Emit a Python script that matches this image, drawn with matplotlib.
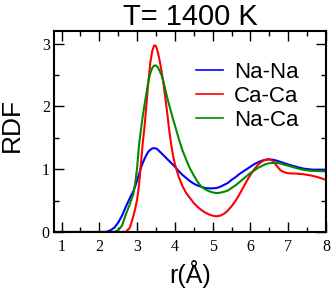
import numpy as np
import matplotlib
matplotlib.use("Agg")
import matplotlib.pyplot as plt
from matplotlib.ticker import MultipleLocator

# r grid (Angstrom) and RDF values
r = [0.8, 2.0, 2.1, 2.2, 2.3, 2.4, 2.5, 2.6, 2.7, 2.8, 2.85, 2.9, 2.95,
     3.0, 3.05, 3.1, 3.15, 3.2, 3.25, 3.3, 3.35, 3.4, 3.45, 3.5, 3.55,
     3.6, 3.65, 3.7, 3.75, 3.8, 3.85, 3.9, 3.95, 4.0, 4.1, 4.2, 4.3, 4.4,
     4.5, 4.6, 4.7, 4.8, 4.9, 5.0, 5.1, 5.2, 5.3, 5.4, 5.5, 5.6, 5.7, 5.8,
     5.9, 6.0, 6.1, 6.2, 6.3, 6.4, 6.5, 6.6, 6.7, 6.8, 6.9, 7.0, 7.2, 7.4,
     7.6, 7.8, 8.0]

na_na = [0, 0, 0, 0.005, 0.03, 0.07, 0.15, 0.26, 0.40, 0.53, 0.59, 0.65, 0.73,
         0.82, 0.92, 1.02, 1.10, 1.17, 1.23, 1.28, 1.31, 1.33, 1.335, 1.33, 1.31,
         1.28, 1.25, 1.22, 1.19, 1.16, 1.13, 1.10, 1.07, 1.04, 0.97, 0.91, 0.86, 0.81,
         0.77, 0.74, 0.72, 0.70, 0.695, 0.695, 0.70, 0.72, 0.75, 0.78, 0.83, 0.87, 0.92, 0.96,
         1.00, 1.04, 1.08, 1.11, 1.135, 1.15, 1.155, 1.15, 1.135, 1.115, 1.095, 1.075, 1.04, 1.01,
         0.995, 0.99, 0.99]

ca_ca = [0, 0, 0, 0, 0, 0, 0, 0, 0.005, 0.06, 0.15, 0.25, 0.37,
         0.52, 0.75, 1.08, 1.42, 1.70, 2.05, 2.40, 2.70, 2.88, 2.97, 2.96, 2.86,
         2.72, 2.55, 2.35, 2.12, 1.88, 1.62, 1.40, 1.22, 1.08, 0.88, 0.73, 0.62, 0.54,
         0.46, 0.40, 0.35, 0.31, 0.28, 0.26, 0.25, 0.26, 0.29, 0.34, 0.41, 0.49, 0.59, 0.70,
         0.81, 0.91, 1.00, 1.07, 1.12, 1.15, 1.16, 1.13, 1.05, 0.98, 0.95, 0.935, 0.93, 0.92,
         0.90, 0.87, 0.83]

na_ca = [0, 0, 0, 0, 0, 0.003, 0.03, 0.10, 0.28, 0.43, 0.52, 0.60, 0.78,
         1.02, 1.38, 1.62, 1.85, 2.04, 2.22, 2.40, 2.53, 2.61, 2.65, 2.65, 2.62,
         2.56, 2.49, 2.39, 2.26, 2.13, 2.02, 1.91, 1.80, 1.70, 1.49, 1.30, 1.15, 1.01,
         0.90, 0.80, 0.72, 0.68, 0.65, 0.63, 0.62, 0.625, 0.64, 0.66, 0.70, 0.74, 0.79, 0.84,
         0.89, 0.94, 0.98, 1.02, 1.05, 1.08, 1.095, 1.10, 1.10, 1.09, 1.07, 1.055, 1.02, 0.99,
         0.975, 0.97, 0.965]

labels = ["Na-Na", "Ca-Ca", "Na-Ca"]
colors = ["#0000ff", "#ff0000", "#008b00"]

sans = "Liberation Sans"
serif = "Liberation Serif"

fig = plt.figure(figsize=(3.32, 2.88), dpi=100)
ax = fig.add_axes([54/332, 56/288, 272/332, 201/288])

for y, lab, c in zip([na_na, ca_ca, na_ca], labels, colors):
    ax.plot(r, y, color=c, lw=1.5, label=lab)

ax.set_xlim(0.8, 8)
ax.set_ylim(0, 3.2)
ax.xaxis.set_major_locator(MultipleLocator(1))
ax.xaxis.set_minor_locator(MultipleLocator(0.5))
ax.yaxis.set_major_locator(MultipleLocator(1))
ax.yaxis.set_minor_locator(MultipleLocator(0.5))
ax.tick_params(which="both", direction="in", top=True, right=True, width=1)
ax.tick_params(which="major", length=7)
ax.tick_params(which="minor", length=3.6)
ax.tick_params(axis="x", pad=5)
ax.tick_params(axis="y", pad=3)
for lab in ax.get_xticklabels() + ax.get_yticklabels():
    lab.set_fontfamily(serif)
    lab.set_fontsize(11.5)
for s in ax.spines.values():
    s.set_linewidth(1.5)

ax.set_title("T= 1400 K", fontfamily=sans, fontsize=21, pad=2)
ax.set_xlabel("r(Å)", fontfamily=sans, fontsize=18, labelpad=3.5)
ax.set_ylabel("RDF", fontfamily=sans, fontsize=19)
ax.yaxis.set_label_coords(-0.11, 0.53)

leg = ax.legend(loc="upper left", bbox_to_anchor=(0.49, 0.89), frameon=False,
                prop={"family": sans, "size": 16}, handlelength=1.2,
                handletextpad=0.5, labelspacing=0.14, borderaxespad=0)
for h in leg.get_lines():
    h.set_linewidth(1.2)

fig.savefig("out.png", dpi=100)
